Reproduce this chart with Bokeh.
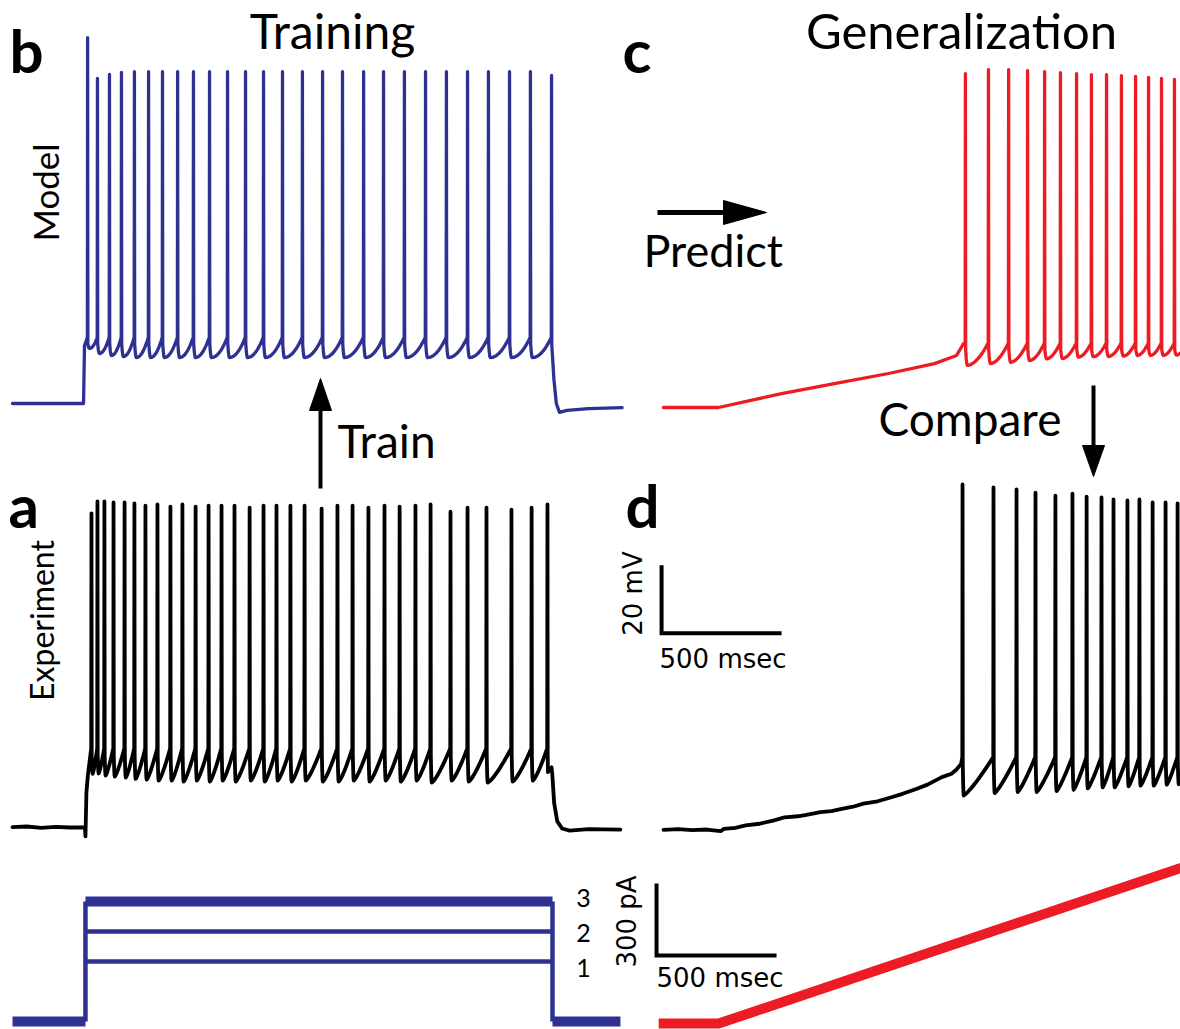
import math
from bokeh.plotting import figure
from bokeh.models import Range1d
from bokeh.core.properties import value
from bokeh.embed import file_html
from bokeh.resources import INLINE

W, H = 1180, 1029

# ------------------------------------------------------------------ data
# b: model (training), times in ms from start of sweep, voltages in mV
model_spike_ms = [313, 354, 404, 454, 508, 567, 625, 688, 754, 821, 896, 971, 1046, 1125,
                  1208, 1292, 1375, 1463, 1546, 1633, 1721, 1808, 1896, 1983, 2071, 2158, 2246]
model_peak_mv = [37.6, 25.6, 26.8, 27.4] + [27.6] * 22 + [26.5]
model_trough_mv = [-53.8, -55.3, -55.9, -56.2] + [-56.5] * 22
model_pre_ms = [0, 296, 300]
model_pre_mv = [-70.0, -70.0, -53.0]
model_post_ms = [2249, 2256, 2266, 2279, 2310, 2400, 2540]
model_post_mv = [-55.0, -63.0, -70.0, -72.6, -72.0, -71.5, -71.2]

# a: experiment (training)
exp_spike_ms = [329, 354, 383, 421, 467, 508, 554, 604, 658, 708, 763, 817, 871, 925, 988,
                1046, 1100, 1158, 1217, 1288, 1354, 1417, 1483, 1550, 1613, 1679, 1742,
                1825, 1896, 1975, 2079, 2163, 2229]
exp_peak_mv = [22.1, 25.6, 25.6, 25.3, 25.3, 25.0, 24.4, 24.7, 24.1, 24.7, 24.1, 24.4, 24.4,
               24.4, 23.8, 24.4, 24.4, 24.4, 24.4, 23.5, 24.4, 24.4, 23.8, 24.4, 24.1, 24.4,
               24.7, 22.6, 23.8, 23.8, 23.2, 23.8, 24.7]
exp_trough_mv = [-54.5, -54.4, -55.0, -55.3, -55.6, -56.0, -56.2, -56.5, -56.5, -56.8, -56.5,
                 -56.8, -56.5, -56.8, -56.5, -56.8, -56.5, -56.8, -56.5, -56.8, -56.8, -56.5,
                 -56.8, -56.5, -56.8, -56.5, -57.1, -56.5, -56.8, -57.1, -56.8, -56.5]
exp_pre_ms = [0, 60, 120, 180, 240, 302, 304, 308, 314]
exp_pre_mv = [-70.2, -70.0, -70.4, -70.1, -70.3, -70.3, -72.9, -60.0, -55.0]
exp_post_ms = [2231, 2246, 2249, 2257, 2270, 2290, 2321, 2400, 2533]
exp_post_mv = [-54.0, -52.6, -54.5, -63.2, -68.5, -70.6, -71.2, -70.8, -70.9]

# c: model prediction for ramp
pred_spike_ms = [1258, 1354, 1438, 1517, 1588, 1654, 1721, 1783, 1846, 1908, 1967, 2021,
                 2075, 2129, 2183]
pred_peak_mv = [28.2, 29.4, 29.4, 29.1, 28.8, 28.5, 28.2, 27.9, 27.9, 27.6, 27.4, 27.1,
                26.8, 26.5, 26.3]
pred_trough_mv = [-57.6, -57.1, -56.7, -56.2, -55.7, -55.6, -55.2, -55.1, -55.0, -54.9,
                  -54.7, -54.7, -54.7, -54.6]
pred_pre_ms = [0, 229, 492, 712, 938, 1129, 1221, 1250]
pred_pre_mv = [-70.0, -70.0, -65.9, -63.0, -60.0, -57.1, -54.7, -51.2]

# d: experiment under ramp
ramp_exp_spike_ms = [1246, 1375, 1471, 1550, 1633, 1704, 1763, 1825, 1875, 1933, 1983,
                     2038, 2092, 2142, 2192]
ramp_exp_peak_mv = [31.2, 30.3, 29.7, 28.8, 27.9, 28.5, 27.6, 27.4, 26.8, 26.5, 26.8, 25.9,
                    25.9, 25.6, 25.3]
ramp_exp_trough_mv = [-60.3, -59.6, -59.3, -59.3, -59.0, -58.6, -58.2, -57.9, -57.9, -57.6,
                      -57.4, -57.4, -57.1, -57.0]
ramp_exp_pre_ms = [0, 60, 120, 180, 238, 252, 300, 342, 400, 461, 505, 560, 595, 654, 700,
                   743, 790, 833, 892, 950, 996, 1056, 1100, 1160, 1200, 1220, 1240]
ramp_exp_pre_mv = [-70.4, -70.2, -70.5, -70.3, -70.8, -70.1, -69.8, -69.1, -68.6, -67.6,
                   -66.7, -66.4, -66.0, -65.2, -64.9, -64.2, -63.6, -62.7, -62.0, -60.8,
                   -59.8, -58.3, -57.1, -54.9, -53.9, -52.7, -51.0]

# stimuli
step_on_ms, step_off_ms, sweep_end_ms = 304, 2250, 2533
step_levels_pa = [250, 375, 500]
step_labels = ["1", "2", "3"]
ramp_ms = [-20, 230, 2400]
ramp_pa = [0, 0, 730]

# scale bars
bar_time_ms, bar_volt_mv, bar_curr_pa = 500, 20, 300

# ------------------------------------------------------------------ layout
PX_MS, PX_MV, PX_PA = 0.24, 3.4, 0.24
BLUE, RED, BLACK = "#2E3192", "#ED1C24", "#000000"
BASE_K = 0.42  # empirical offset between requested and drawn alphabetic baseline (em)


def xrange_at(origin_px):
    return Range1d(start=-origin_px / PX_MS, end=(W - origin_px) / PX_MS)


def yrange_at(anchor_px, anchor_val, scale):
    return Range1d(start=anchor_val - (H - anchor_px) / scale, end=anchor_val + anchor_px / scale)


def Y(py):
    return H - py


def by(py, fs):
    # y anchor so that the baseline lands at pixel row py
    return Y(py - BASE_K * fs)


def bx_rot(px, fs):
    # x anchor so that the baseline of upward-rotated text lands at pixel column px
    return px - BASE_K * fs


def build(pre_t, pre_v, spikes, peaks, troughs, thr, post_t, post_v, ahp, pw):
    t, v = list(pre_t), list(pre_v)
    n = len(spikes)
    for i, ts in enumerate(spikes):
        t += [ts - 1.0, ts, ts + 1.0]
        v += [thr, peaks[i], thr - 2.0]
        if i < n - 1:
            tr = troughs[i]
            t_tr = ts + ahp
            for w in (0.35, 0.7, 1.0):
                t.append(ts + 1.0 + (t_tr - ts - 1.0) * w)
                v.append(tr + (thr - 2.0 - tr) * (1 - w) ** 2)
            t_end = spikes[i + 1] - 1.0
            for k in range(1, 12):
                u = k / 12
                t.append(t_tr + (t_end - t_tr) * u)
                v.append(tr + (thr - tr) * u ** pw)
    t += list(post_t)
    v += list(post_v)
    return t, v


p = figure(width=W, height=H, output_backend="svg", toolbar_location=None,
           x_range=Range1d(0, W), y_range=Range1d(0, H),
           x_axis_location=None, y_axis_location=None, min_border=0)
p.xgrid.visible = False
p.ygrid.visible = False
p.outline_line_color = None

p.extra_x_ranges = {"L": xrange_at(12), "R": xrange_at(663)}
p.extra_y_ranges = {
    "vb": yrange_at(403, -70, PX_MV),
    "va": yrange_at(826, -70, PX_MV),
    "vc": yrange_at(407, -70, PX_MV),
    "vd": yrange_at(828, -70, PX_MV),
    "ia": yrange_at(1021, 0, PX_PA),
    "ic": yrange_at(1023, 0, PX_PA),
}

lk = dict(line_join="round", line_cap="round")

# b model
t, v = build(model_pre_ms, model_pre_mv, model_spike_ms, model_peak_mv, model_trough_mv,
             -50.5, model_post_ms, model_post_mv, 8, 2.0)
p.line(t, v, x_range_name="L", y_range_name="vb", line_color=BLUE, line_width=3.3, **lk)

# a experiment
t, v = build(exp_pre_ms, exp_pre_mv, exp_spike_ms, exp_peak_mv, exp_trough_mv,
             -47.0, exp_post_ms, exp_post_mv, 5, 1.3)
p.line(t, v, x_range_name="L", y_range_name="va", line_color=BLACK, line_width=3.8, **lk)

# c prediction
t, v = build(pred_pre_ms, pred_pre_mv, pred_spike_ms, pred_peak_mv, pred_trough_mv,
             -51.0, [2190], [-54.5], 8, 1.8)
p.line(t, v, x_range_name="R", y_range_name="vc", line_color=RED, line_width=3.3, **lk)

# d experiment ramp
t, v = build(ramp_exp_pre_ms, ramp_exp_pre_mv, ramp_exp_spike_ms, ramp_exp_peak_mv,
             ramp_exp_trough_mv, -49.0, [2198], [-57.0], 5, 1.2)
p.line(t, v, x_range_name="R", y_range_name="vd", line_color=BLACK, line_width=3.8, **lk)

# step currents
ck = dict(x_range_name="L", y_range_name="ia", line_color=BLUE)
p.line([0, step_on_ms], [0, 0], line_width=10, **ck)
p.line([step_off_ms, sweep_end_ms], [0, 0], line_width=10, **ck)
top = max(step_levels_pa)
p.line([step_on_ms, step_on_ms], [0, top], line_width=4.5, **ck)
p.line([step_off_ms, step_off_ms], [0, top], line_width=4.5, **ck)
for lev in step_levels_pa:
    p.line([step_on_ms, step_off_ms], [lev, lev], line_width=10 if lev == top else 4.5, **ck)
# level labels
for lev, lab in zip(step_levels_pa, step_labels):
    off = {"1": 6, "2": 1, "3": -4}[lab]
    p.text(x=[583], y=[Y(1021 - lev * PX_PA + off)], text=[lab], text_align="center",
           text_baseline="middle", text_font=value("Lato"), text_font_size=value("25px"),
           text_color=BLACK)

# ramp current
p.line(ramp_ms, ramp_pa, x_range_name="R", y_range_name="ic", line_color=RED, line_width=10,
       line_join="miter")

# scale bars
sx, sv = -8, -12.6
p.line([sx, sx, sx + bar_time_ms], [sv + bar_volt_mv, sv, sv], x_range_name="R",
       y_range_name="vd", line_color=BLACK, line_width=4, line_join="miter")
cx, ci = -29, 283
p.line([cx, cx, cx + bar_time_ms], [ci + bar_curr_pa, ci, ci], x_range_name="R",
       y_range_name="ic", line_color=BLACK, line_width=4, line_join="miter")

SB = 26
sb = dict(text_font=value("DejaVu Sans"), text_font_size=value(f"{SB}px"), text_color=BLACK,
          text_baseline="alphabetic")
p.text(x=[659], y=[by(669, SB)], text=[f"{bar_time_ms} msec"], text_align="left", **sb)
p.text(x=[656], y=[by(988, SB)], text=[f"{bar_time_ms} msec"], text_align="left", **sb)
p.text(x=[bx_rot(643, SB)], y=[Y(593)], text=[f"{bar_volt_mv} mV"], angle=math.pi / 2,
       text_align="center", **sb)
p.text(x=[bx_rot(637, SB)], y=[Y(921)], text=[f"{bar_curr_pa} pA"], angle=math.pi / 2,
       text_align="center", **sb)

# panel letters
LF = 60
lt = dict(text_font=value("Lato"), text_font_style="bold", text_font_size=value(f"{LF}px"),
          text_color=BLACK, text_align="left", text_baseline="alphabetic")
p.text(x=[9, 622, 8, 625], y=[by(75, LF), by(75, LF), by(530, LF), by(530, LF)],
       text=["b", "c", "a", "d"], **lt)

# titles and words
tt = dict(text_font=value("Lato"), text_color=BLACK, text_baseline="alphabetic")


def word(x, py, s, fs, align="left"):
    p.text(x=[x], y=[by(py, fs)], text=[s], text_align=align,
           text_font_size=value(f"{fs}px"), **tt)


word(332, 50, "Training", 48, "center")
word(961, 50, "Generalization", 49, "center")
word(643, 268, "Predict", 45)
word(337, 459, "Train", 46)
word(878, 437, "Compare", 46)

p.text(x=[bx_rot(59, 35)], y=[Y(192)], text=["Model"], angle=math.pi / 2, text_align="center",
       text_font_size=value("35px"), **tt)
p.text(x=[bx_rot(54, 32)], y=[Y(620)], text=["Experiment"], angle=math.pi / 2,
       text_align="center", text_font_size=value("32px"), **tt)

# arrows
p.line([320, 320], [Y(488), Y(400)], line_color=BLACK, line_width=4)
p.patch([320, 309, 331], [Y(378), Y(410), Y(410)], color=BLACK)
p.line([657, 730], [Y(212), Y(212)], line_color=BLACK, line_width=5)
p.patch([766, 723, 723], [Y(212), Y(200), Y(224)], color=BLACK)
p.line([1093, 1093], [Y(385), Y(450)], line_color=BLACK, line_width=4)
p.patch([1093, 1082, 1104], [Y(476), Y(445), Y(445)], color=BLACK)

open("out.html", "w").write(file_html(p, INLINE))
